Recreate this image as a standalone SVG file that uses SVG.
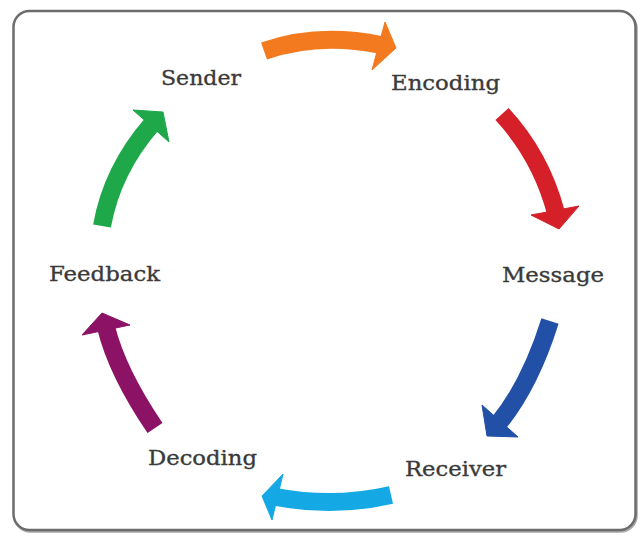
<svg xmlns="http://www.w3.org/2000/svg" width="640" height="539" viewBox="0 0 640 539">
  <style>
    .label { font-family: "DejaVu Serif", "Liberation Serif", serif; font-size: 21px; fill: #3a3a3a; stroke: #3a3a3a; stroke-width: 0.35; }
    .band { fill: none; stroke-width: 18; stroke-linecap: butt; }
    .orange { stroke: #F47A1F; fill: #F47A1F; }
    .red { stroke: #D5202A; fill: #D5202A; }
    .blue { stroke: #2150A6; fill: #2150A6; }
    .cyan { stroke: #14A8E4; fill: #14A8E4; }
    .purple { stroke: #8C1266; fill: #8C1266; }
    .green { stroke: #1EA84A; fill: #1EA84A; }
    polygon { stroke: none; }
  </style>

  <!-- frame -->
  <rect x="0" y="0" width="640" height="539" fill="#ffffff"/>
  <rect x="14.5" y="12.5" width="622" height="519" rx="16" fill="none" stroke="#a8a8a8" stroke-width="2.5"/>
  <rect x="13.5" y="11" width="622" height="519" rx="16" fill="#ffffff" stroke="#6c6c6c" stroke-width="2.5"/>

  <!-- cycle arrows -->
  <g id="connectors">
    <g id="sender-to-encoding">
      <path class="band orange" d="M264,51 Q318,32 381,45"/>
      <polygon class="orange" points="385,22 396,48 372,70"/>
    </g>
    <g id="encoding-to-message">
      <path class="band red" d="M502,114 Q541,156 556,213"/>
      <polygon class="red" points="531,215 559,229 579,206"/>
    </g>
    <g id="message-to-receiver">
      <path class="band blue" d="M550,321 Q530,385 498,424"/>
      <polygon class="blue" points="482,405 487,436 518,437"/>
    </g>
    <g id="receiver-to-decoding">
      <path class="band cyan" d="M391,495 Q334,508 276,497"/>
      <polygon class="cyan" points="283,474 262,496 272,520"/>
    </g>
    <g id="decoding-to-feedback">
      <path class="band purple" d="M155,428 Q117,372 106,327"/>
      <polygon class="purple" points="82,335 102,313 130,325"/>
    </g>
    <g id="feedback-to-sender">
      <path class="band green" d="M102,226 Q112,170 152,124"/>
      <polygon class="green" points="133,110 163,112 169,142"/>
    </g>
  </g>

  <!-- stage labels -->
  <g id="sender"><text class="label" x="161" y="85" textLength="80" lengthAdjust="spacingAndGlyphs">Sender</text></g>
  <g id="encoding"><text class="label" x="391" y="90" textLength="109" lengthAdjust="spacingAndGlyphs">Encoding</text></g>
  <g id="message"><text class="label" x="502" y="282" textLength="102" lengthAdjust="spacingAndGlyphs">Message</text></g>
  <g id="receiver"><text class="label" x="405" y="476" textLength="101" lengthAdjust="spacingAndGlyphs">Receiver</text></g>
  <g id="decoding"><text class="label" x="148" y="465" textLength="109" lengthAdjust="spacingAndGlyphs">Decoding</text></g>
  <g id="feedback"><text class="label" x="49" y="281" textLength="111" lengthAdjust="spacingAndGlyphs">Feedback</text></g>
</svg>
